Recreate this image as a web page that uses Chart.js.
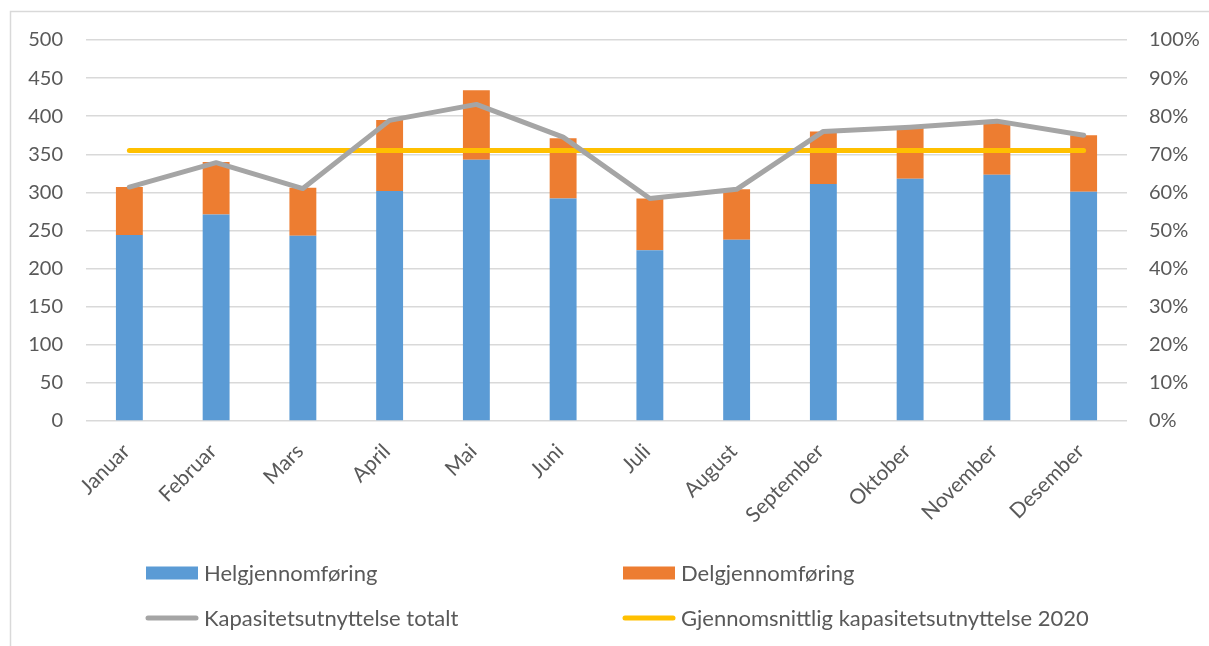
<!DOCTYPE html>
<html>
<head>
<meta charset="utf-8">
<script src="https://cdn.jsdelivr.net/npm/chart.js@4"></script>
<style>
html,body{margin:0;padding:0;background:#fff;}
#wrap{position:absolute;left:0;top:0;width:1209px;height:646px;}
</style>
</head>
<body>
<div id="wrap"><canvas id="c" width="1209" height="646"></canvas></div>
<script>
const months = ["Januar","Februar","Mars","April","Mai","Juni","Juli","August","September","Oktober","November","Desember"];
const helgjennomforing = [244, 271, 243, 302, 343, 292, 224, 238, 311, 318, 323, 301];
const delgjennomforing = [63, 69, 63, 93, 91, 79, 68, 66, 69, 68, 69, 74];
const kapasitetTotalt = [61.4, 67.8, 61.0, 78.9, 83.1, 74.5, 58.4, 60.8, 76.0, 77.1, 78.7, 75.0];
const gjennomsnitt2020 = [71, 71, 71, 71, 71, 71, 71, 71, 71, 71, 71, 71];
const leftTicks = [0, 50, 100, 150, 200, 250, 300, 350, 400, 450, 500];
const rightTicks = [0, 10, 20, 30, 40, 50, 60, 70, 80, 90, 100];

const TEXT = '#595959';
const FONT = 'Lato';

const frame = {
  id: 'frame',
  beforeDraw(chart) {
    const ctx = chart.ctx;
    ctx.save();
    ctx.fillStyle = '#fff';
    ctx.fillRect(0, 0, chart.width, chart.height);
    ctx.strokeStyle = '#D9D9D9';
    ctx.lineWidth = 1.5;
    ctx.beginPath();
    ctx.moveTo(10.5, chart.height);
    ctx.lineTo(10.5, 11.5);
    ctx.lineTo(chart.width, 11.5);
    ctx.stroke();
    ctx.restore();
  }
};

const gridLegend = {
  id: 'gridLegend',
  afterDraw(chart) {
    const ctx = chart.ctx;
    const ds = chart.data.datasets;
    const cols = [146, 623];
    const rows = [573, 618];
    ctx.save();
    ctx.font = '22px ' + FONT;
    ctx.textBaseline = 'middle';
    ctx.textAlign = 'left';
    ds.forEach((d, i) => {
      const x = cols[i % 2], y = rows[Math.floor(i / 2)];
      if (d.type === 'line') {
        ctx.strokeStyle = d.borderColor;
        ctx.lineWidth = 5;
        ctx.lineCap = 'round';
        ctx.beginPath();
        ctx.moveTo(x + 2, y);
        ctx.lineTo(x + 50, y);
        ctx.stroke();
      } else {
        ctx.fillStyle = d.backgroundColor;
        ctx.fillRect(x, y - 6.5, 52, 13);
      }
      ctx.fillStyle = TEXT;
      ctx.fillText(d.label, x + 58, y + 1);
    });
    ctx.restore();
  }
};

new Chart(document.getElementById('c'), {
  data: {
    labels: months,
    datasets: [
      { type: 'bar', label: 'Helgjennomføring', data: helgjennomforing, backgroundColor: '#5B9BD5', yAxisID: 'y', stack: 's', order: 2, categoryPercentage: 1, barPercentage: 0.31 },
      { type: 'bar', label: 'Delgjennomføring', data: delgjennomforing, backgroundColor: '#ED7D31', yAxisID: 'y', stack: 's', order: 2, categoryPercentage: 1, barPercentage: 0.31 },
      { type: 'line', label: 'Kapasitetsutnyttelse totalt', data: kapasitetTotalt, borderColor: '#A5A5A5', backgroundColor: '#A5A5A5', borderWidth: 5, pointRadius: 0, tension: 0, borderJoinStyle: 'round', borderCapStyle: 'round', yAxisID: 'y1', order: 0 },
      { type: 'line', label: 'Gjennomsnittlig kapasitetsutnyttelse 2020', data: gjennomsnitt2020, borderColor: '#FFC000', backgroundColor: '#FFC000', borderWidth: 5, pointRadius: 0, tension: 0, borderCapStyle: 'round', yAxisID: 'y1', order: 1 }
    ]
  },
  options: {
    responsive: false,
    animation: false,
    layout: { padding: { top: 40, left: 0, right: 0, bottom: 0 } },
    plugins: { legend: { display: false }, tooltip: { enabled: false } },
    scales: {
      x: {
        stacked: true,
        offset: true,
        grid: { display: false, drawTicks: false },
        border: { display: false },
        ticks: { color: TEXT, font: { family: FONT, size: 21 }, minRotation: 45, maxRotation: 45, padding: 18, labelOffset: -3, autoSkip: false },
        afterFit(s) { s.height = 225; s.paddingLeft = 0; s.paddingRight = 0; }
      },
      y: {
        position: 'left',
        stacked: true,
        min: 0, max: 500,
        afterBuildTicks(s) { s.ticks = leftTicks.map(v => ({ value: v })); },
        grid: { color: '#D9D9D9', lineWidth: 1.5, drawTicks: false },
        border: { display: false },
        ticks: { color: TEXT, font: { family: FONT, size: 20 }, padding: 23 },
        afterFit(s) { s.width = 86; }
      },
      y1: {
        position: 'right',
        min: 0, max: 100,
        afterBuildTicks(s) { s.ticks = rightTicks.map(v => ({ value: v })); },
        grid: { display: false, drawTicks: false },
        border: { display: false },
        ticks: { color: TEXT, font: { family: FONT, size: 20 }, padding: 22, callback: v => v + '%' },
        afterFit(s) { s.width = 82; }
      }
    }
  },
  plugins: [frame, gridLegend]
});
</script>
</body>
</html>
